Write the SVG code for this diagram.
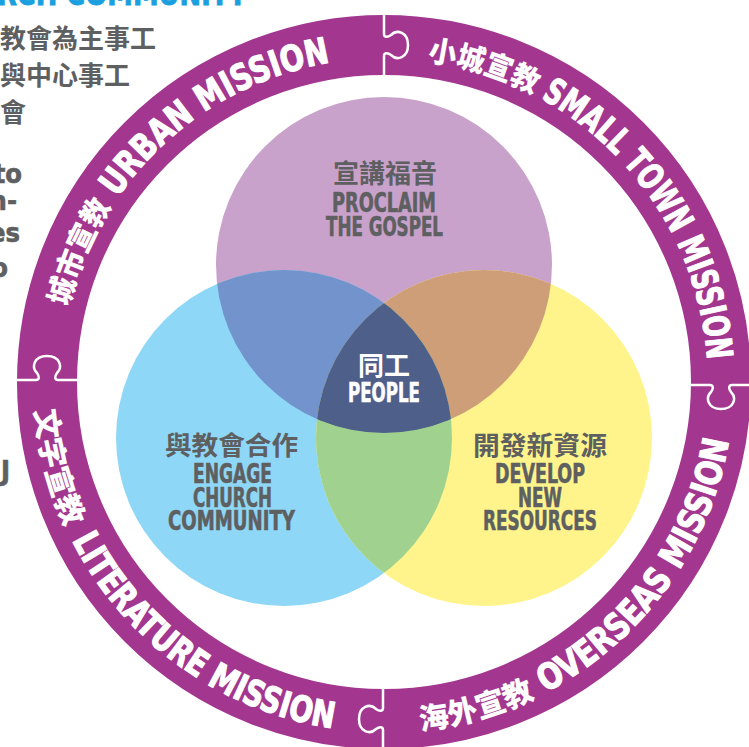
<svg xmlns="http://www.w3.org/2000/svg" xmlns:xlink="http://www.w3.org/1999/xlink" width="749" height="747" viewBox="0 0 749 747">
<style>
.cjk{font-family:"Noto Sans CJK TC","Noto Sans CJK SC",sans-serif;font-weight:700;}
.en{font-family:"Liberation Sans Narrow","DejaVu Sans Condensed","Liberation Sans",sans-serif;font-weight:700;font-stretch:condensed;}
.gray{fill:#5E5F61;}
.en.gray{stroke:#5E5F61;stroke-width:0.6;}
.white{fill:#FFFFFF;}
.en.white{stroke:#FFFFFF;stroke-width:0.6;}
.ringcjk{font-family:"Noto Sans CJK TC","Noto Sans CJK SC",sans-serif;font-weight:900;font-size:30px;fill:#FFFFFF;}
.ringen{font-family:"Liberation Sans Narrow","DejaVu Sans Condensed","Liberation Sans",sans-serif;font-weight:700;font-stretch:condensed;font-size:36px;fill:#FFFFFF;stroke:#FFFFFF;stroke-width:1.1;}
.seam{fill:none;stroke:#FFFFFF;stroke-width:2.5;stroke-linejoin:round;}
.lbl{font-size:26px;text-anchor:middle;}
</style>
<defs>
<clipPath id="cP"><circle cx="384" cy="265" r="168"/></clipPath>
<clipPath id="cB"><circle cx="284" cy="438" r="168"/></clipPath>
<path id="tab" d="M0,0 L21,0 C24,0 25,3 22,7 C16,13 19,24 32,24 C45,24 48,13 42,7 C39,3 40,0 43,0 L64,0"/>
<path id="pUrban" d="M68.8,306.9 A324,324 0 0 1 459.1,66.8"/>
<path id="pSmall" d="M427.4,60.9 A324,324 0 0 1 705.1,425.4"/>
<path id="pLit" d="M35.1,410.1 A350,350 0 0 0 412.1,730.9"/>
<path id="pOver" d="M420.6,730.1 A350,350 0 0 0 732.1,345.4"/>
</defs>

<g id="side-text">
<text class="en" x="-3" y="5" font-size="32" fill="#1BA0DF" stroke="#1BA0DF" stroke-width="0.8" textLength="250" lengthAdjust="spacingAndGlyphs">RCH COMMUNITY</text>
<text class="cjk gray" x="0" y="48" font-size="26">教會為主事工</text>
<text class="cjk gray" x="0" y="85" font-size="26">與中心事工</text>
<text class="cjk gray" x="0" y="122" font-size="26">會</text>
<text class="en gray" x="22" y="183" font-size="27" text-anchor="end">to</text>
<text class="en gray" x="17" y="210" font-size="27" text-anchor="end">h-</text>
<text class="en gray" x="20" y="242" font-size="27" text-anchor="end">es</text>
<text class="en gray" x="8" y="277" font-size="27" text-anchor="end">o</text>
<text class="en gray" x="10" y="480" font-size="27" text-anchor="end">J</text>
</g>

<g id="ring">
<circle cx="384" cy="382" r="337" fill="none" stroke="#A3378F" stroke-width="60"/>
<use href="#tab" class="seam" transform="translate(384,13) rotate(90) scale(1,-1)"/>
<use href="#tab" class="seam" transform="translate(753,385) scale(-1,1)"/>
<use href="#tab" class="seam" transform="translate(383,751) rotate(-90) scale(1,-1)"/>
<use href="#tab" class="seam" transform="translate(15,380) scale(1,-1)"/>
</g>

<g id="urban-mission">
<text class="ringcjk"><textPath href="#pUrban" startOffset="0" textLength="110" lengthAdjust="spacingAndGlyphs">城市宣教</textPath></text>
<text class="ringen"><textPath href="#pUrban" startOffset="120" textLength="259" lengthAdjust="spacingAndGlyphs">URBAN MISSION</textPath></text>
</g>
<g id="small-town-mission">
<text class="ringcjk"><textPath href="#pSmall" startOffset="0" textLength="112" lengthAdjust="spacingAndGlyphs">小城宣教</textPath></text>
<text class="ringen"><textPath href="#pSmall" startOffset="120" textLength="323" lengthAdjust="spacingAndGlyphs">SMALL TOWN MISSION</textPath></text>
</g>
<g id="literature-mission">
<text class="ringcjk"><textPath href="#pLit" startOffset="0" textLength="122" lengthAdjust="spacingAndGlyphs">文字宣教</textPath></text>
<text class="ringen"><textPath href="#pLit" startOffset="136" textLength="334" lengthAdjust="spacingAndGlyphs">LITERATURE MISSION</textPath></text>
</g>
<g id="overseas-mission">
<text class="ringcjk"><textPath href="#pOver" startOffset="0" textLength="120" lengthAdjust="spacingAndGlyphs">海外宣教</textPath></text>
<text class="ringen"><textPath href="#pOver" startOffset="131" textLength="323" lengthAdjust="spacingAndGlyphs">OVERSEAS MISSION</textPath></text>
</g>

<g id="venn">
<circle cx="384" cy="265" r="168" fill="#C9A2CB"/>
<circle cx="284" cy="438" r="168" fill="#8FD7F6"/>
<circle cx="484" cy="438" r="168" fill="#FEF48B"/>
<circle cx="284" cy="438" r="168" fill="#7293CB" clip-path="url(#cP)"/>
<circle cx="484" cy="438" r="168" fill="#CD9E78" clip-path="url(#cP)"/>
<circle cx="484" cy="438" r="168" fill="#A1D18F" clip-path="url(#cB)"/>
<g clip-path="url(#cP)"><circle cx="484" cy="438" r="168" fill="#4E5F8A" clip-path="url(#cB)"/></g>
</g>

<g id="proclaim">
<text class="cjk gray lbl" x="385" y="183">宣講福音</text>
<text class="en gray lbl" x="384" y="212" textLength="104" lengthAdjust="spacingAndGlyphs">PROCLAIM</text>
<text class="en gray lbl" x="384.5" y="236" textLength="117" lengthAdjust="spacingAndGlyphs">THE GOSPEL</text>
</g>
<g id="people">
<text class="cjk white lbl" x="384" y="375">同工</text>
<text class="en white lbl" x="384" y="402" textLength="72" lengthAdjust="spacingAndGlyphs">PEOPLE</text>
</g>
<g id="engage">
<text class="cjk gray lbl" x="231.5" y="455" textLength="133" lengthAdjust="spacingAndGlyphs">與教會合作</text>
<text class="en gray lbl" x="232.5" y="483" textLength="79" lengthAdjust="spacingAndGlyphs">ENGAGE</text>
<text class="en gray lbl" x="232.5" y="507" textLength="79" lengthAdjust="spacingAndGlyphs">CHURCH</text>
<text class="en gray lbl" x="231.5" y="530" textLength="127" lengthAdjust="spacingAndGlyphs">COMMUNITY</text>
</g>
<g id="develop">
<text class="cjk gray lbl" x="540" y="455" textLength="134" lengthAdjust="spacingAndGlyphs">開發新資源</text>
<text class="en gray lbl" x="540" y="483" textLength="90" lengthAdjust="spacingAndGlyphs">DEVELOP</text>
<text class="en gray lbl" x="540" y="507" textLength="44" lengthAdjust="spacingAndGlyphs">NEW</text>
<text class="en gray lbl" x="540" y="530" textLength="114" lengthAdjust="spacingAndGlyphs">RESOURCES</text>
</g>
</svg>
